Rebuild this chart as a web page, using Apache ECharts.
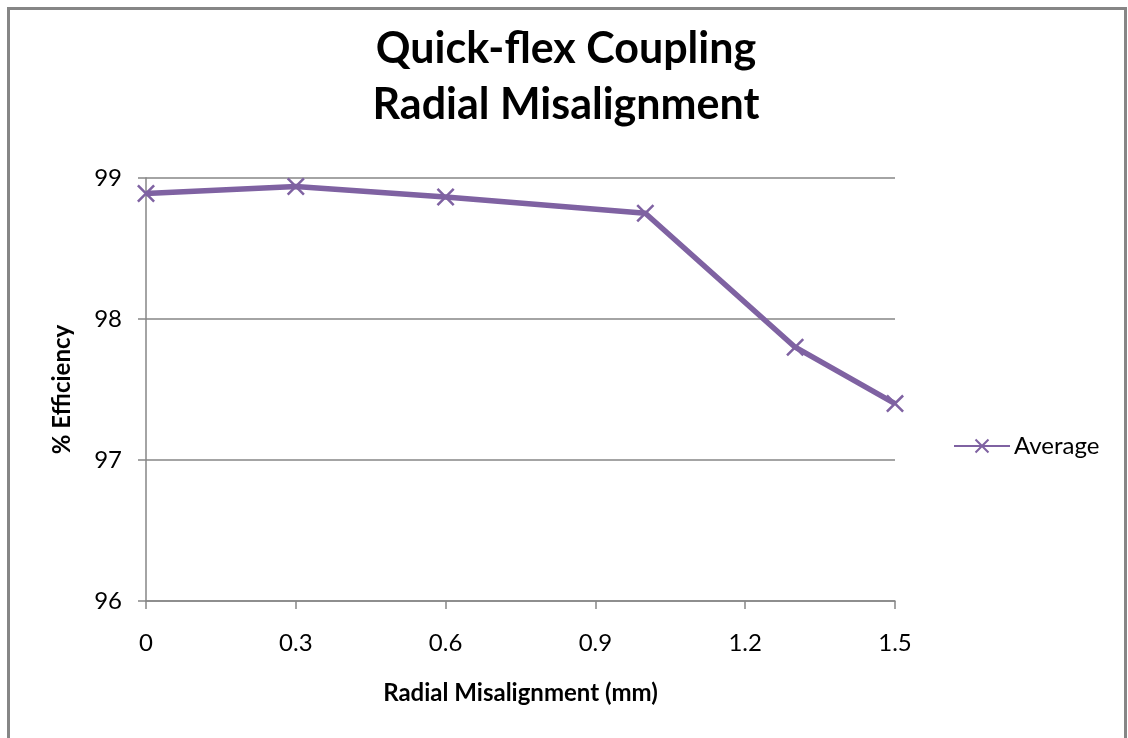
<!DOCTYPE html>
<html>
<head>
<meta charset="utf-8">
<script src="https://cdn.jsdelivr.net/npm/echarts@6/dist/echarts.min.js"></script>
<style>
  html, body { margin: 0; padding: 0; background: #fff; }
  #chart { width: 1128px; height: 738px; }
</style>
</head>
<body>
<div id="chart"></div>
<script>
// data
var misalignment = [0, 0.3, 0.6, 1.0, 1.3, 1.5];
var efficiency = [98.89, 98.94, 98.865, 98.75, 97.8, 97.4];
var xTicks = { min: 0, max: 1.5, interval: 0.3 };
var yTicks = { min: 96, max: 99, interval: 1 };

var purple = "#7F62A2";
var grey = "#868686";
var font = "Lato, 'Open Sans', sans-serif";

var points = misalignment.map(function(x, i) {
  return [x, efficiency[i]];
});

var myChart = echarts.init(document.getElementById("chart"));
myChart.setOption({
  animation: false,
  backgroundColor: "#fff",
  textStyle: { fontFamily: font, color: "#000" },
  title: {
    text: "Quick-flex Coupling\nRadial Misalignment",
    left: 561,
    textAlign: "center",
    top: 16,
    textStyle: {
      fontFamily: font,
      fontSize: 43,
      fontWeight: "bold",
      lineHeight: 56,
      color: "#000"
    }
  },
  graphic: [
    {
      type: "rect",
      shape: { x: 8.5, y: 8.5, width: 1117, height: 760 },
      style: { fill: null, stroke: grey, lineWidth: 3 },
      silent: true
    }
  ],
  legend: {
    left: 948,
    top: 429,
    itemWidth: 56,
    itemHeight: 18,
    itemGap: 4,
    textStyle: { fontFamily: font, fontSize: 24, color: "#000", padding: [0, 0, 0, -1] },
    data: ["Average"]
  },
  grid: { left: 146, right: 233, top: 178, bottom: 137 },
  xAxis: {
    type: "value",
    min: xTicks.min,
    max: xTicks.max,
    interval: xTicks.interval,
    name: "Radial Misalignment (mm)",
    nameLocation: "middle",
    nameGap: 80,
    nameTextStyle: { fontFamily: font, fontSize: 24, fontWeight: "bold", color: "#000" },
    axisLine: { show: true, lineStyle: { color: grey, width: 1.5 } },
    axisTick: { show: true, length: 8, lineStyle: { color: grey, width: 1.5 } },
    axisLabel: {
      margin: 30,
      fontFamily: font,
      fontSize: 24,
      color: "#000",
      formatter: function(v) { return String(Math.round(v * 10) / 10); }
    },
    splitLine: { show: false }
  },
  yAxis: {
    type: "value",
    min: yTicks.min,
    max: yTicks.max,
    interval: yTicks.interval,
    name: "% Efficiency",
    nameLocation: "middle",
    nameGap: 72,
    nameTextStyle: { fontFamily: font, fontSize: 24, fontWeight: "bold", color: "#000" },
    axisLine: { show: true, lineStyle: { color: grey, width: 1.5 } },
    axisTick: { show: true, length: 8, lineStyle: { color: grey, width: 1.5 } },
    axisLabel: { margin: 24, fontFamily: font, fontSize: 24, color: "#000" },
    splitLine: { show: true, lineStyle: { color: grey, width: 1.5 } }
  },
  series: [
    {
      name: "Average",
      type: "line",
      data: points,
      symbol: "path://M0,1L1,0L10,9L9,10Z M9,0L10,1L1,10L0,9Z",
      symbolSize: 18,
      showAllSymbol: true,
      lineStyle: { color: purple, width: 5.5 },
      itemStyle: { color: purple }
    }
  ]
});
</script>
</body>
</html>
